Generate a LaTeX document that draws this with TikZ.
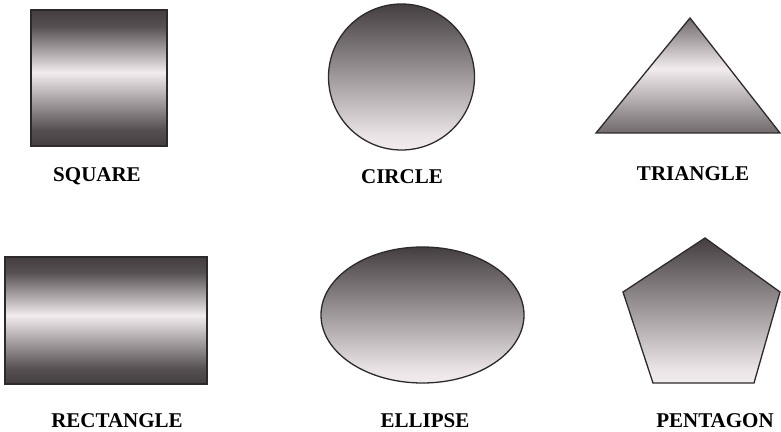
\documentclass[tikz,border=0pt]{standalone}
\usepackage{fontspec}
\setmainfont{Liberation Serif}
\definecolor{shdark}{RGB}{68,62,65}
\definecolor{shmid}{RGB}{112,106,109}
\definecolor{shlight}{RGB}{242,236,239}
\definecolor{edge}{RGB}{45,42,44}
\pgfdeclareverticalshading{bandsh}{100bp}{color(0bp)=(shdark); color(25bp)=(shdark); color(31bp)=(shdark!90!shlight); color(52bp)=(shlight); color(69bp)=(shdark!90!shlight); color(75bp)=(shdark); color(100bp)=(shdark)}
\pgfdeclareverticalshading{fadesh}{100bp}{color(0bp)=(shlight); color(25bp)=(shlight); color(30bp)=(shlight!95!shdark); color(75bp)=(shdark); color(100bp)=(shdark)}
\pgfdeclareverticalshading{triash}{100bp}{color(0bp)=(shmid); color(25bp)=(shmid); color(53bp)=(shlight); color(75bp)=(shmid); color(100bp)=(shmid)}
\tikzset{
  shapeline/.style={draw=edge, line width=1.3pt, line join=miter},
  bandshade/.style={shapeline, shading=bandsh},
  fadeshade/.style={shapeline, shading=fadesh},
  triashade/.style={shapeline, shading=triash},
  lbl/.style={font=\bfseries\fontsize{21}{24}\selectfont, inner sep=0pt, text=black}
}
\begin{document}
\begin{tikzpicture}[x=1pt,y=1pt]
\useasboundingbox (0,0) rectangle (781,431);
% top row
\path[bandshade] (31,421) rectangle (167,285);
\path[fadeshade] (401.5,354) circle [radius=73];
\path[triashade] (690,413) -- (780,298) -- (596,298) -- cycle;
% bottom row
\path[bandshade] (5,174) rectangle (207,47);
\path[fadeshade] (422.5,116) ellipse [x radius=101.5, y radius=68];
\path[fadeshade] (705,193) -- (780,139) -- (754,48) -- (653,48) -- (623,139) -- cycle;
% labels
\node[lbl] (lsquare) at (97,255) {SQUARE};
\node[lbl] (lcircle) at (402,254) {CIRCLE};
\node[lbl] (ltriangle) at (693,257) {TRIANGLE};
\node[lbl] (lrectangle) at (117,10) {RECTANGLE};
\node[lbl] (lellipse) at (425,10) {ELLIPSE};
\node[lbl] (lpentagon) at (715,10) {PENTAGON};
\end{tikzpicture}
\end{document}
